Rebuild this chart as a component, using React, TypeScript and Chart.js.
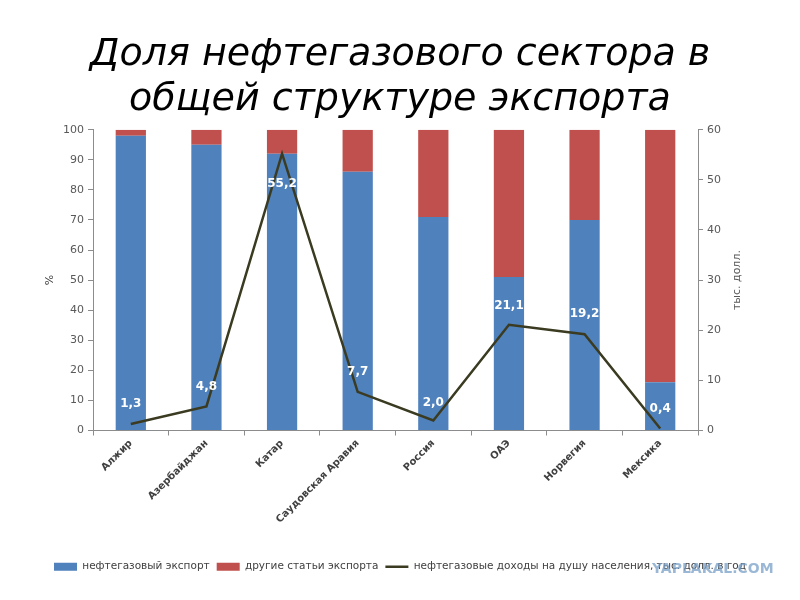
import { useEffect, useRef } from "react";
import { Chart, ChartConfiguration, Plugin, registerables } from "chart.js";

Chart.register(...registerables);

const countries = [
  "Алжир",
  "Азербайджан",
  "Катар",
  "Саудовская Аравия",
  "Россия",
  "ОАЭ",
  "Норвегия",
  "Мексика",
];

// % of exports
const oilGasShare = [98, 95, 92, 86, 71, 51, 70, 16];
const otherShare = [2, 5, 8, 14, 29, 49, 30, 84];

// thousand USD per capita per year
const incomePerCapita = [1.3, 4.8, 55.2, 7.7, 2.0, 21.1, 19.2, 0.4];

const titleLines = ["Доля нефтегазового сектора в", "общей структуре экспорта"];

const BLUE = "#4f81bd";
const RED = "#c0504d";
const LINE = "#3b3b22";
const AXIS = "#8c8c8c";
const TICK_TEXT = "#595959";

// vertical offset of each value label from its point (px)
const labelShift = [-20, -20, 30, -20, -18, -19, -20, -20];

const valueLabels: Plugin<"bar"> = {
  id: "valueLabels",
  afterDraw(chart) {
    const ctx = chart.ctx;
    const meta = chart.getDatasetMeta(2);
    ctx.save();
    ctx.font = "bold 12px 'DejaVu Sans'";
    ctx.fillStyle = "#ffffff";
    ctx.textAlign = "center";
    ctx.textBaseline = "middle";
    meta.data.forEach((pt, i) => {
      const txt = incomePerCapita[i].toFixed(1).replace(".", ",");
      ctx.fillText(txt, pt.x, pt.y + labelShift[i]);
    });
    ctx.restore();

    const y = chart.scales.y;
    const midY = (y.top + y.bottom) / 2;

    // left axis title
    ctx.save();
    ctx.translate(50, midY);
    ctx.rotate(-Math.PI / 2);
    ctx.font = "11px 'DejaVu Sans'";
    ctx.fillStyle = "#404040";
    ctx.textAlign = "center";
    ctx.textBaseline = "middle";
    ctx.fillText("%", 0, 0);
    ctx.restore();

    // right axis title, reading bottom to top
    ctx.save();
    ctx.translate(737, midY);
    ctx.rotate(-Math.PI / 2);
    ctx.font = "11px 'DejaVu Sans'";
    ctx.fillStyle = TICK_TEXT;
    ctx.textAlign = "center";
    ctx.textBaseline = "middle";
    ctx.fillText("тыс. долл.", 0, 0);
    ctx.restore();

    // watermark
    ctx.save();
    ctx.font = "bold 14px 'DejaVu Sans'";
    ctx.fillStyle = "rgba(120, 160, 200, 0.75)";
    ctx.textAlign = "left";
    ctx.textBaseline = "middle";
    ctx.fillText("YAPLAKAL.COM", 652, 569);
    ctx.restore();
  },
};

export default function App() {
  const canvasRef = useRef<HTMLCanvasElement>(null);
  const chartRef = useRef<Chart | null>(null);

  useEffect(() => {
    if (!canvasRef.current) return;
    if (chartRef.current) chartRef.current.destroy();

    const config: ChartConfiguration<"bar"> = {
      type: "bar",
      data: {
        labels: countries,
        datasets: [
          {
            label: "нефтегазовый экспорт",
            data: oilGasShare,
            backgroundColor: BLUE,
            stack: "s",
            order: 2,
            barPercentage: 0.4,
            categoryPercentage: 1,
            pointStyle: "rect",
          } as any,
          {
            label: "другие статьи экспорта",
            data: otherShare,
            backgroundColor: RED,
            stack: "s",
            order: 2,
            barPercentage: 0.4,
            categoryPercentage: 1,
            pointStyle: "rect",
          } as any,
          {
            type: "line",
            label: "нефтегазовые доходы на душу населения, тыс. долл. в год",
            data: incomePerCapita,
            yAxisID: "y1",
            borderColor: LINE,
            backgroundColor: LINE,
            borderWidth: 2.5,
            pointRadius: 0,
            pointStyle: "line",
            tension: 0,
            order: 1,
          } as any,
        ],
      },
      options: {
        responsive: true,
        maintainAspectRatio: false,
        animation: false,
        layout: { padding: { left: 0, right: 0, top: 0, bottom: 18 } },
        scales: {
          x: {
            stacked: true,
            grid: {
              display: true,
              drawOnChartArea: false,
              drawTicks: true,
              tickLength: 5,
              color: AXIS,
            },
            border: { color: AXIS },
            ticks: {
              color: "#404040",
              font: { family: "'DejaVu Sans'", size: 10, weight: "bold" },
              maxRotation: 45,
              minRotation: 45,
              padding: 2,
            },
            afterFit(scale) {
              scale.height = 124;
            },
          },
          y: {
            stacked: true,
            min: 0,
            max: 100,
            grid: {
              drawOnChartArea: false,
              drawTicks: true,
              tickLength: 5,
              color: AXIS,
            },
            border: { color: AXIS },
            ticks: {
              stepSize: 10,
              color: TICK_TEXT,
              font: { family: "'DejaVu Sans'", size: 11 },
              padding: 4,
            },
            afterFit(scale) {
              scale.width = 93;
            },
          },
          y1: {
            position: "right",
            min: 0,
            max: 60,
            grid: {
              drawOnChartArea: false,
              drawTicks: true,
              tickLength: 5,
              color: AXIS,
            },
            border: { color: AXIS },
            ticks: {
              stepSize: 10,
              color: TICK_TEXT,
              font: { family: "'DejaVu Sans'", size: 11 },
              padding: 4,
            },
            afterFit(scale) {
              scale.width = 102;
            },
          },
        },
        plugins: {
          title: {
            display: true,
            text: titleLines,
            color: "#000000",
            font: { family: "'DejaVu Sans'", size: 38, style: "italic", weight: "normal", lineHeight: 1.18 },
            padding: { top: 33, bottom: 7 },
          },
          legend: {
            position: "bottom",
            labels: {
              usePointStyle: true,
              pointStyleWidth: 23,
              boxHeight: 8,
              boxWidth: 23,
              padding: 7,
              color: "#404040",
              font: { family: "'DejaVu Sans'", size: 10.5 },
              sort: (a, b) => (a.datasetIndex ?? 0) - (b.datasetIndex ?? 0),
            },
          },
          tooltip: { enabled: false },
        },
      },
      plugins: [valueLabels],
    };

    chartRef.current = new Chart(canvasRef.current, config);

    return () => {
      if (chartRef.current) {
        chartRef.current.destroy();
        chartRef.current = null;
      }
    };
  }, []);

  return (
    <div style={{ position: "absolute", left: 0, top: 0, width: 800, height: 600, background: "#ffffff" }}>
      <canvas ref={canvasRef} />
    </div>
  );
}
